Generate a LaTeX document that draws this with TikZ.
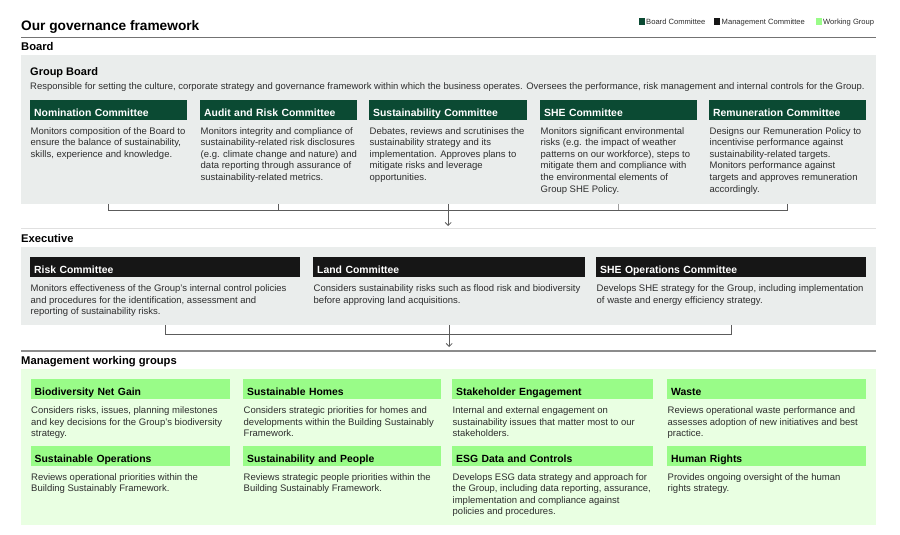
\documentclass[tikz,border=0pt]{standalone}
\usepackage{fontspec}
\setmainfont{Liberation Sans}
\usetikzlibrary{arrows.meta}
\definecolor{bdgreen}{HTML}{0B4A33}
\definecolor{mgblack}{HTML}{161616}
\definecolor{wglight}{HTML}{99FC88}
\definecolor{wgpanel}{HTML}{E9FFE2}
\definecolor{graypanel}{HTML}{EAEDEC}
\definecolor{txt}{HTML}{2E2E2E}
\definecolor{connc}{HTML}{5C5C5C}
\begin{document}
\begin{tikzpicture}[x=1pt,y=-1pt,
  panelbox/.style={anchor=north west, inner sep=0, draw=none},
  hdr/.style={anchor=north west, minimum height=20pt, inner xsep=4pt, inner ysep=0, text height=12pt, text depth=0pt, align=left, font=\fontsize{10.4}{12}\selectfont\bfseries},
  bchead/.style={hdr, fill=bdgreen, text=white},
  mchead/.style={hdr, fill=mgblack, text=white},
  wghead/.style={hdr, fill=wglight, text=black},
  desc/.style={anchor=north west, inner sep=0, align=left, text=txt, font=\fontsize{9.5}{11.6}\selectfont},
  seclabel/.style={anchor=base west, inner sep=0, font=\fontsize{11.2}{13}\selectfont\bfseries, text=black},
  legsq/.style={anchor=north west, inner sep=0, minimum width=6pt, minimum height=7pt},
  legtxt/.style={anchor=base west, inner sep=0, font=\fontsize{7.6}{9}\selectfont, text=txt},
  connline/.style={draw=connc, line width=0.8pt},
  arrowline/.style={connline, -{Straight Barb[length=3pt,width=6pt]}},
]
\useasboundingbox (0,0) rectangle (900,535);
\fill[white] (0,0) rectangle (900,535);

% title and legend
\node[anchor=base west, inner sep=0, font=\fontsize{13.7}{16}\selectfont\bfseries] (title) at (21,30.7) {Our governance framework};
\draw[draw=black!55, line width=1.2pt] (21,37.3) -- (876,37.3);
\node[legsq, fill=bdgreen] (lg1) at (638.5,18.3) {};
\node[legtxt] (lt1) at (646,25) {Board Committee};
\node[legsq, fill=mgblack] (lg2) at (714,18.3) {};
\node[legtxt] (lt2) at (721.5,25) {Management Committee};
\node[legsq, fill=wglight] (lg3) at (815.5,18.3) {};
\node[legtxt] (lt3) at (823,25) {Working Group};

% Board
\node[seclabel] (boardlbl) at (21,50.7) {Board};
\node[panelbox, fill=graypanel, minimum width=855pt, minimum height=149pt] (boardpanel) at (21,55) {};
\node[anchor=base west, inner sep=0, font=\fontsize{11}{13}\selectfont\bfseries] (gb) at (30,75.5) {Group Board};
\node[anchor=base west, inner sep=0, text=txt, font=\fontsize{9.45}{11.6}\selectfont] (gbd) at (30,89.5) {Responsible for setting the culture, corporate strategy and governance framework within which the business operates. Oversees the performance, risk management and internal controls for the Group.};

\node[bchead, text width=149pt] (nom) at (30,100) {Nomination Committee};
\node[bchead, text width=149pt] (aud) at (200,100) {Audit and Risk Committee};
\node[bchead, text width=150pt] (sus) at (369,100) {Sustainability Committee};
\node[bchead, text width=149pt] (she) at (540,100) {SHE Committee};
\node[bchead, text width=149pt] (rem) at (709,100) {Remuneration Committee};

\node[desc] (nomd) at (30.5,127) {Monitors composition of the Board to\\ensure the balance of sustainability,\\skills, experience and knowledge.};
\node[desc] (audd) at (200.5,127) {Monitors integrity and compliance of\\sustainability-related risk disclosures\\(e.g. climate change and nature) and\\data reporting through assurance of\\sustainability-related metrics.};
\node[desc] (susd) at (369.5,127) {Debates, reviews and scrutinises the\\sustainability strategy and its\\implementation. Approves plans to\\mitigate risks and leverage\\opportunities.};
\node[desc] (shed) at (540.5,127) {Monitors significant environmental\\risks (e.g. the impact of weather\\patterns on our workforce), steps to\\mitigate them and compliance with\\the environmental elements of\\Group SHE Policy.};
\node[desc] (remd) at (709.5,127) {Designs our Remuneration Policy to\\incentivise performance against\\sustainability-related targets.\\Monitors performance against\\targets and approves remuneration\\accordingly.};

% board connectors
\coordinate (bjoin) at (448,210);
\coordinate (btip) at (448,226);
\draw[connline] (nom.south |- boardpanel.south) -- (nom.south |- bjoin) -- (rem.south |- bjoin) -- (rem.south |- boardpanel.south);
\draw[connline] (aud.south |- boardpanel.south) -- (aud.south |- bjoin);
\draw[connline, draw=connc!60] (she.south |- boardpanel.south) -- (she.south |- bjoin);
\draw[arrowline] (sus.south |- boardpanel.south) -- (sus.south |- btip);
\draw[draw=black!12, line width=0.6pt] (21,228) -- (876,228);

% Executive
\node[seclabel] (execlbl) at (21,242.5) {Executive};
\node[panelbox, fill=graypanel, minimum width=855pt, minimum height=78pt] (execpanel) at (21,247) {};
\node[mchead, text width=262pt] (risk) at (30,257) {Risk Committee};
\node[mchead, text width=264pt] (land) at (313,257) {Land Committee};
\node[mchead, text width=262pt] (sheops) at (596,257) {SHE Operations Committee};
\node[desc] (riskd) at (30.5,284.5) {Monitors effectiveness of the Group's internal control policies\\and procedures for the identification, assessment and\\reporting of sustainability risks.};
\node[desc] (landd) at (313.5,284.5) {Considers sustainability risks such as flood risk and biodiversity\\before approving land acquisitions.};
\node[desc] (sheopsd) at (596.5,284.5) {Develops SHE strategy for the Group, including implementation\\of waste and energy efficiency strategy.};

% executive connectors
\coordinate (ejoin) at (448,334);
\coordinate (etip) at (448,347);
\draw[connline] (risk.south |- execpanel.south) -- (risk.south |- ejoin) -- (sheops.south |- ejoin) -- (sheops.south |- execpanel.south);
\draw[arrowline] (land.south |- execpanel.south) -- (land.south |- etip);
\draw[draw=black!45, line width=1.2pt] (21,351) -- (876,351);

% Management working groups
\node[seclabel] (mgmtlbl) at (21,364.5) {Management working groups};
\node[panelbox, fill=wgpanel, minimum width=855pt, minimum height=156pt] (mgmtpanel) at (21,369) {};
\node[wghead, text width=191pt] (bng) at (30.5,379) {Biodiversity Net Gain};
\node[wghead, text width=190pt] (shomes) at (243,379) {Sustainable Homes};
\node[wghead, text width=193pt] (stake) at (452,379) {Stakeholder Engagement};
\node[wghead, text width=191pt] (waste) at (667,379) {Waste};
\node[desc] (bngd) at (31,406.5) {Considers risks, issues, planning milestones\\and key decisions for the Group's biodiversity\\strategy.};
\node[desc] (shomesd) at (243.5,406.5) {Considers strategic priorities for homes and\\developments within the Building Sustainably\\Framework.};
\node[desc] (staked) at (452.5,406.5) {Internal and external engagement on\\sustainability issues that matter most to our\\stakeholders.};
\node[desc] (wasted) at (667.5,406.5) {Reviews operational waste performance and\\assesses adoption of new initiatives and best\\practice.};

\node[wghead, text width=191pt] (sops) at (30.5,446) {Sustainable Operations};
\node[wghead, text width=190pt] (speople) at (243,446) {Sustainability and People};
\node[wghead, text width=193pt] (esg) at (452,446) {ESG Data and Controls};
\node[wghead, text width=191pt] (hr) at (667,446) {Human Rights};
\node[desc] (sopsd) at (31,473) {Reviews operational priorities within the\\Building Sustainably Framework.};
\node[desc] (speopled) at (243.5,473) {Reviews strategic people priorities within the\\Building Sustainably Framework.};
\node[desc] (esgd) at (452.5,473) {Develops ESG data strategy and approach for\\the Group, including data reporting, assurance,\\implementation and compliance against\\policies and procedures.};
\node[desc] (hrd) at (667.5,473) {Provides ongoing oversight of the human\\rights strategy.};
\end{tikzpicture}
\end{document}
